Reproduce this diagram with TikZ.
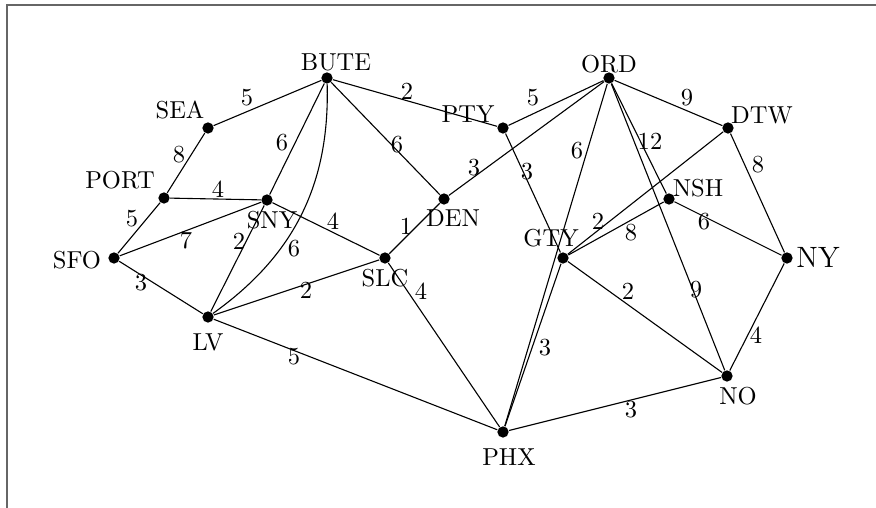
\documentclass[tikz,border=0pt]{standalone}
\begin{document}
\begin{tikzpicture}[x=0.408pt, y=-0.408pt,
  city/.style={circle, fill=black, inner sep=0pt, minimum size=4.6pt},
  citylabel/.style={inner sep=0pt},
  wt/.style={inner sep=0pt},
  road/.style={line width=0.45pt}]
\useasboundingbox (0,0) rectangle (876,508);
% frame
\draw[black!60, line width=0.7pt] (7,508) -- (7,5) -- (876,5);

% cities
\node[city] (BUTE) at (327,78) {};
\node[city] (SEA)  at (208,128) {};
\node[city] (PORT) at (164,198) {};
\node[city] (SNY)  at (267,200) {};
\node[city] (SFO)  at (114,258) {};
\node[city] (LV)   at (208,317) {};
\node[city] (SLC)  at (385,258) {};
\node[city] (DEN)  at (444,199) {};
\node[city] (PTY)  at (503,128) {};
\node[city] (ORD)  at (609,78) {};
\node[city] (DTW)  at (728,128) {};
\node[city] (NSH)  at (669,199) {};
\node[city] (GTY)  at (563,258) {};
\node[city] (NY)   at (787,258) {};
\node[city] (NO)   at (727,376) {};
\node[city] (PHX)  at (503,432) {};

% city names
\node[citylabel] (tBUTE) at (336,62) {BUTE};
\node[citylabel] (tSEA)  at (180,110) {SEA};
\node[citylabel] (tPORT) at (120,180) {PORT};
\node[citylabel] (tSFO)  at (77,260) {SFO};
\node[citylabel] (tLV)   at (208,342) {LV};
\node[citylabel] (tSNY)  at (272,220) {SNY};
\node[citylabel] (tSLC)  at (385,278) {SLC};
\node[citylabel] (tDEN)  at (453,218) {DEN};
\node[citylabel] (tPTY)  at (468,114) {PTY};
\node[citylabel] (tORD)  at (609,64) {ORD};
\node[citylabel] (tDTW)  at (762,115) {DTW};
\node[citylabel] (tNSH)  at (698,188) {NSH};
\node[citylabel] (tGTY)  at (551,238) {GTY};
\node[citylabel, font=\large] (tNY) at (818,257) {NY};
\node[citylabel] (tNO)   at (738,396) {NO};
\node[citylabel] (tPHX)  at (509,457) {PHX};

% roads with their weights
\draw[road] (SEA) -- (BUTE) node[wt] at (247,98) {5};
\draw[road] (SEA) -- (PORT) node[wt] at (179,155) {8};
\draw[road] (PORT) -- (SNY) node[wt] at (218,189) {4};
\draw[road] (PORT) -- (SFO) node[wt] at (132,219) {5};
\draw[road] (SFO) -- (SNY) node[wt] at (186,240) {7};
\draw[road] (SFO) -- (LV) node[wt] at (141,283) {3};
\draw[road] (SNY) -- (LV) node[wt] at (239,241) {2};
\draw[road] (BUTE) -- (SNY) node[wt] at (282,143) {6};
\draw[road] (BUTE) to[bend left=28] (LV);
\node[wt] (wBL) at (294,249) {6};
\draw[road] (BUTE) -- (PTY) node[wt] at (407,91) {2};
\draw[road] (BUTE) -- (DEN) node[wt] at (397,145) {6};
\draw[road] (SNY) -- (SLC) node[wt] at (333,221) {4};
\draw[road] (LV) -- (SLC) node[wt] at (306,290) {2};
\draw[road] (SLC) -- (DEN) node[wt] at (406,226) {1};
\draw[road] (DEN) -- (ORD) node[wt] at (474,168) {3};
\draw[road] (SLC) -- (PHX) node[wt] at (421,291) {4};
\draw[road] (LV) -- (PHX) node[wt] at (294,357) {5};
\draw[road] (PTY) -- (ORD) node[wt] at (533,98) {5};
\draw[road] (PTY) -- (GTY) node[wt] at (527,172) {3};
\draw[road] (ORD) -- (PHX) node[wt] at (577,151) {6};
\draw[road] (ORD) -- (DTW) node[wt] at (687,98) {9};
\draw[road] (ORD) -- (NSH) node[wt] at (650,141) {12};
\draw[road] (ORD) -- (NO) node[wt] at (696,290) {9};
\draw[road] (DTW) -- (NY) node[wt] at (758,165) {8};
\draw[road] (DTW) -- (GTY) node[wt] at (598,221) {2};
\draw[road] (NSH) -- (GTY) node[wt] at (631,233) {8};
\draw[road] (NSH) -- (NY) node[wt] at (704,222) {6};
\draw[road] (GTY) -- (NO) node[wt] at (628,291) {2};
\draw[road] (NY) -- (NO) node[wt] at (756,335) {4};
\draw[road] (PHX) -- (NO) node[wt] at (631,410) {3};
\draw[road] (GTY) -- (PHX) node[wt] at (545,348) {3};
\end{tikzpicture}
\end{document}
